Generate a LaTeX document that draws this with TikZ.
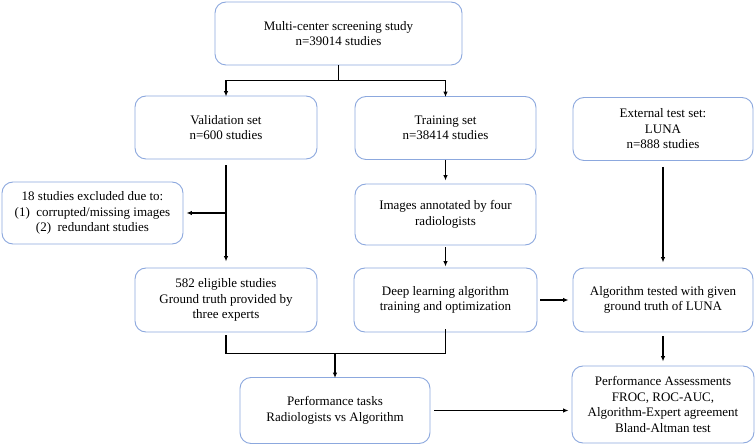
\documentclass[tikz,border=0pt]{standalone}
\usepackage{fontspec}
\setmainfont{Liberation Serif}
\usetikzlibrary{arrows.meta}
\definecolor{boxblue}{RGB}{140,168,222}
\begin{document}
\begin{tikzpicture}[x=1pt,y=-1pt,
  box/.style={draw=boxblue, line width=0.9pt, rounded corners=11pt, align=center,
    inner sep=0pt, font=\fontsize{13}{15.5}\selectfont, fill=white},
  arr/.style={-{Latex[length=5.5pt,width=4.5pt]}, line width=1.1pt},
  ln/.style={line width=1.1pt}]
\useasboundingbox (0,0) rectangle (756,446);
\node[box, minimum width=247pt, minimum height=63pt] (top) at (338.5,33.5) {Multi-center screening study\\n=39014 studies};
\node[box, minimum width=182pt, minimum height=63pt] (val) at (226,127.5) {Validation set\\n=600 studies};
\node[box, minimum width=181pt, minimum height=63pt] (train) at (445.5,128) {Training set\\n=38414 studies};
\node[box, minimum width=180pt, minimum height=63pt] (ext) at (663,129) {External test set:\\LUNA\\n=888 studies};
\node[box, minimum width=181pt, minimum height=62pt] (excl) at (92.5,213) {18 studies excluded due to:\\(1)\ \ corrupted/missing images\\(2)\ \ redundant studies};
\node[box, minimum width=181pt, minimum height=61pt] (annot) at (445.5,214.5) {Images annotated by four\\radiologists};
\node[box, minimum width=182pt, minimum height=64pt] (elig) at (226,300) {582 eligible studies\\Ground truth provided by\\three experts};
\node[box, minimum width=183pt, minimum height=64pt] (dl) at (445.5,300) {Deep learning algorithm\\training and optimization};
\node[box, minimum width=180pt, minimum height=64pt] (alg) at (663,300) {Algorithm tested with given\\ground truth of LUNA};
\node[box, minimum width=190pt, minimum height=66pt] (tasks) at (335,410.5) {Performance tasks\\Radiologists vs Algorithm};
\node[box, minimum width=182pt, minimum height=77pt] (assess) at (663,404.5) {Performance Assessments\\FROC, ROC-AUC,\\Algorithm-Expert agreement\\Bland-Altman test};
% top split
\draw[ln] (top.south) -- ++(0,15) coordinate (split);
\draw[arr] (split) -| ([yshift=-1pt]val.north);
\draw[arr] (split) -| ([yshift=-1pt]train.north);
% validation branch
\draw[arr, shorten <=6pt, shorten >=6pt] (val.south) -- (elig.north);
\coordinate (vb) at (val.south |- excl.east);
\draw[arr, shorten >=3pt] (vb) -- (excl.east);
% training branch
\draw[arr, shorten >=3pt] (train.south) -- (annot.north);
\draw[arr, shorten <=2pt, shorten >=1pt] (annot.south) -- (dl.north);
% external branch
\draw[arr, shorten <=6pt, shorten >=5pt] (ext.south) -- (alg.north);
\draw[arr, shorten <=3pt, shorten >=4pt] (dl.east) -- (alg.west);
\draw[arr, shorten <=4pt, shorten >=4pt] (alg.south) -- (assess.north);
% bracket to tasks
\draw[ln, shorten <=3pt] (elig.south) -- ++(0,21) coordinate (bl) -| ([yshift=3pt]dl.south);
\coordinate (bm) at (tasks.north |- bl);
\draw[arr] (bm) -- ([yshift=-1pt]tasks.north);
\draw[arr, shorten <=4pt, shorten >=3pt] (tasks.east) -- (tasks.east -| assess.west);
\end{tikzpicture}
\end{document}
